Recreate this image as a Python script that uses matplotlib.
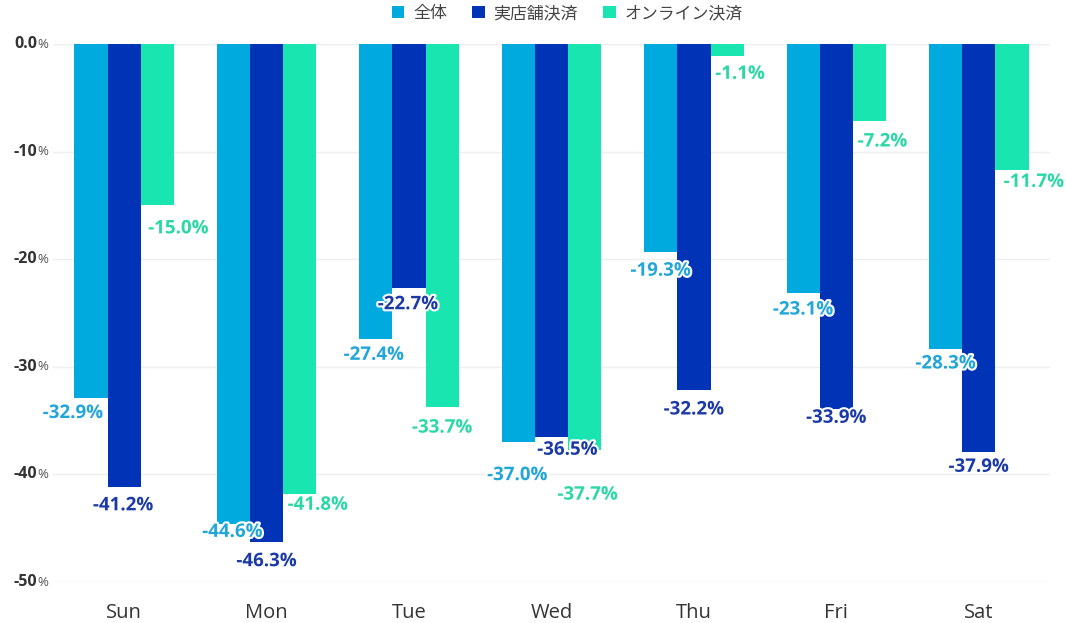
import matplotlib
matplotlib.use("Agg")
import matplotlib.pyplot as plt
import matplotlib.patheffects as pe
from matplotlib.patches import Patch
import matplotlib.transforms as mtransforms
import numpy as np

plt.rcParams['font.family'] = ['Noto Sans CJK JP', 'DejaVu Sans']

days = ["Sun", "Mon", "Tue", "Wed", "Thu", "Fri", "Sat"]
series_names = ["全体", "実店舗決済", "オンライン決済"]
total = [-32.9, -44.6, -27.4, -37.0, -19.3, -23.1, -28.3]
instore = [-41.2, -46.3, -22.7, -36.5, -32.2, -33.9, -37.9]
online = [-15.0, -41.8, -33.7, -37.7, -1.1, -7.2, -11.7]
ytick_values = [0, -10, -20, -30, -40, -50]
ytick_numbers = ["0.0", "-10", "-20", "-30", "-40", "-50"]

bar_colors = ["#00a9de", "#0033b5", "#19e5b0"]
label_colors = ["#22a6da", "#1b3aa6", "#2ad8a6"]

# label nudges (pixels) to avoid collisions, like the original
label_dx = [
    [-18, -1, -2, -1, 0, 0, 0],
    [-1, 0, -1, 16, 0, 0, 0],
    [21, 18, 0, 3, 13, 13, 22],
]
label_dy = [
    [15, 8, 16, 33, 19, 17, 15],
    [18, 19, 16, 13, 19, 9, 15],
    [23, 11, 21, 45, 18, 20, 12],
]

W, H, DPI = 1066, 623, 100
fig = plt.figure(figsize=(W / DPI, H / DPI), dpi=DPI)
ax = fig.add_axes([53 / W, 1 - 582 / H, (1050 - 53) / W, (582 - 44) / H])

x = np.arange(len(days))
bw = 0.233
data = [total, instore, online]
px2pt = 72 / DPI
for i, (vals, col) in enumerate(zip(data, bar_colors)):
    xs = x + (i - 1) * bw
    ax.bar(xs, vals, width=bw, color=col, edgecolor="none", zorder=2)
    for j, v in enumerate(vals):
        ax.annotate(f"{v:.1f}%", xy=(xs[j], v),
                    xytext=(label_dx[i][j] * px2pt, -label_dy[i][j] * px2pt),
                    textcoords="offset points", ha="center", va="center",
                    fontsize=13.5, fontweight="bold", color=label_colors[i],
                    family="Open Sans", annotation_clip=False, zorder=5,
                    path_effects=[pe.withStroke(linewidth=3, foreground="white")])

ax.set_xlim(-0.5, len(days) - 0.5)
ax.set_ylim(-50, 0)
ax.set_yticks(ytick_values)
ax.set_yticklabels([])
ax.yaxis.grid(True, color="#eeeeee", linewidth=1, zorder=0)
ax.tick_params(axis="y", length=0)
ax.tick_params(axis="x", length=0, pad=15)
ax.set_xticks(x)
ax.set_xticklabels(days, fontsize=14.5, color="#333333", family="Open Sans")
for s in ax.spines.values():
    s.set_visible(False)

trans = mtransforms.blended_transform_factory(ax.transAxes, ax.transData)
for v, num in zip(ytick_values, ytick_numbers):
    ax.annotate(num, xy=(0, v), xycoords=trans, xytext=(-16 * px2pt, 0),
                textcoords="offset points", ha="right", va="center",
                fontsize=11.5, fontweight="bold", color="#333333", family="Open Sans",
                annotation_clip=False)
    ax.annotate("%", xy=(0, v), xycoords=trans, xytext=(-15.5 * px2pt, 0),
                textcoords="offset points", ha="left", va="center",
                fontsize=9.5, color="#555555", family="Open Sans",
                annotation_clip=False)

handles = [Patch(facecolor=c, edgecolor="none") for c in bar_colors]
fig.legend(handles, series_names, loc="center", bbox_to_anchor=(567 / W, 1 - 13 / H),
           ncol=3, frameon=False, fontsize=12.2, handlelength=0.75, handleheight=0.75,
           handletextpad=0.5, columnspacing=1.5, labelcolor="#444444")

fig.savefig("out.png", dpi=DPI)
